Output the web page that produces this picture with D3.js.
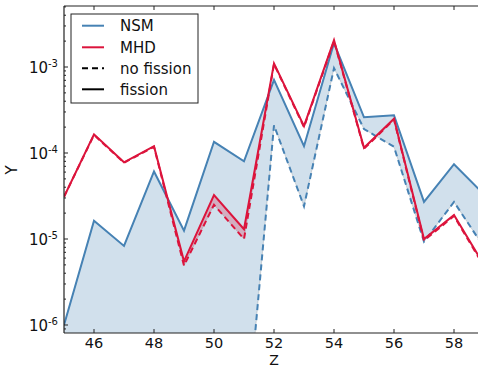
<!DOCTYPE html>
<html><head><meta charset="utf-8">
<script src="https://cdn.jsdelivr.net/npm/d3@7"></script>
<style>body{margin:0;background:#fff}text{font-family:"DejaVu Sans",sans-serif;fill:#111}</style>
</head><body><svg id="c" width="478" height="367"></svg>
<script>
const Z = [45,46,47,48,49,50,51,52,53,54,55,56,57,58,59];
const nsmFission   = [1.0e-6,1.63e-5,8.3e-6,6.1e-5,1.25e-5,1.35e-4,8.0e-5,7.1e-4,1.2e-4,1.9e-3,2.6e-4,2.75e-4,2.7e-5,7.4e-5,3.3e-5];
const nsmNoFission = [2e-8,2e-8,2e-8,2e-8,2e-8,2e-8,3e-8,2.1e-4,2.4e-5,9.7e-4,1.9e-4,1.18e-4,9.3e-6,2.7e-5,8.0e-6];
const mhdFission   = [3.1e-5,1.65e-4,7.8e-5,1.2e-4,5.5e-6,3.25e-5,1.3e-5,1.1e-3,2.05e-4,2.05e-3,1.15e-4,2.5e-4,1.0e-5,1.9e-5,5.0e-6];
const mhdNoFission = [3.1e-5,1.62e-4,7.7e-5,1.18e-4,4.9e-6,2.5e-5,1.0e-5,1.08e-3,2.0e-4,2.0e-3,1.12e-4,2.45e-4,9.6e-6,1.85e-5,4.8e-6];
const xTicks = [46,48,50,52,54,56,58];
const yTickExps = [-6,-5,-4,-3];
const seriesNames = ["NSM","MHD"];
const styleNames = ["no fission","fission"];

const blue = "#4682b4", red = "#dc143c";
const svg = d3.select("#c");
const L = 64, T = 6, B = 333, R = 484;
const x = d3.scaleLinear().domain([45,59]).range([L,R]);
const y = d3.scaleLog().domain([Math.pow(10,-6.093), Math.pow(10,-2.2907)]).range([B,T]);

svg.append("defs").append("clipPath").attr("id","clip")
  .append("rect").attr("x",L).attr("y",T).attr("width",R-L).attr("height",B-T);
const g = svg.append("g").attr("clip-path","url(#clip)");

const idx = d3.range(Z.length);
const area = (lo, hi) => d3.area().x(i=>x(Z[i])).y0(i=>y(lo[i])).y1(i=>y(hi[i]))(idx);
const line = (vals) => d3.line().x(i=>x(Z[i])).y(i=>y(vals[i]))(idx);

g.append("path").attr("d",area(nsmNoFission,nsmFission)).attr("fill",blue).attr("fill-opacity",0.25)
  .attr("stroke","#888").attr("stroke-opacity",0.3).attr("stroke-width",1);
g.append("path").attr("d",area(mhdNoFission,mhdFission)).attr("fill",red).attr("fill-opacity",0.25)
  .attr("stroke","#888").attr("stroke-opacity",0.3).attr("stroke-width",1);

const draw = (vals,color,dash) => g.append("path").attr("d",line(vals)).attr("fill","none")
  .attr("stroke",color).attr("stroke-width",2).attr("stroke-linejoin","miter")
  .attr("stroke-dasharray",dash?"6,4":null);
draw(nsmNoFission,blue,true);
draw(nsmFission,blue,false);
draw(mhdNoFission,red,true);
draw(mhdFission,red,false);

// spines
const ax = svg.append("g").attr("stroke","#222").attr("stroke-width",1.2);
ax.append("line").attr("x1",L).attr("x2",L).attr("y1",T).attr("y2",B);
ax.append("line").attr("x1",L).attr("x2",R).attr("y1",B).attr("y2",B);
ax.append("line").attr("x1",L).attr("x2",R).attr("y1",T).attr("y2",T);

// x ticks (inside, top and bottom)
xTicks.forEach(t=>{
  ax.append("line").attr("x1",x(t)).attr("x2",x(t)).attr("y1",B).attr("y2",B-4).attr("stroke-width",1);
  ax.append("line").attr("x1",x(t)).attr("x2",x(t)).attr("y1",T).attr("y2",T+4).attr("stroke-width",1);
  svg.append("text").attr("x",x(t)).attr("y",348).attr("text-anchor","middle").attr("font-size",14.5).text(t);
});
// y ticks
for (let e=-7;e<=-2;e++){
  for (let m=1;m<10;m++){
    const v = m*Math.pow(10,e);
    if (v<y.domain()[0]||v>y.domain()[1]) continue;
    ax.append("line").attr("x1",L).attr("x2",L+(m===1?4:2)).attr("y1",y(v)).attr("y2",y(v)).attr("stroke-width",1);
  }
}
yTickExps.forEach(e=>{
  const t = svg.append("text").attr("x",58).attr("y",y(Math.pow(10,e))+6).attr("text-anchor","end").attr("font-size",15);
  t.append("tspan").text("10");
  t.append("tspan").attr("font-size",10).attr("dy",-6).text("-"+(-e));
});
svg.append("text").attr("x",x(52)).attr("y",365).attr("text-anchor","middle").attr("font-size",14).text("Z");
svg.append("text").attr("transform","translate(17,170) rotate(-90)").attr("text-anchor","middle").attr("font-size",15).text("Y");

// legend
const lg = svg.append("g");
lg.append("rect").attr("x",71).attr("y",14).attr("width",127).attr("height",89).attr("fill","#fff").attr("stroke","#222").attr("stroke-width",1);
const items = [
  {name:seriesNames[0],color:blue,dash:false},
  {name:seriesNames[1],color:red,dash:false},
  {name:styleNames[0],color:"#000",dash:true},
  {name:styleNames[1],color:"#000",dash:false}
];
const ly = [25.7,47.3,68.3,89.3];
items.forEach((it,i)=>{
  lg.append("line").attr("x1",82).attr("x2",104).attr("y1",ly[i]).attr("y2",ly[i])
    .attr("stroke",it.color).attr("stroke-width",2).attr("stroke-dasharray",it.dash?"6,4":null);
  lg.append("text").attr("x",120).attr("y",ly[i]+5.5).attr("font-size",15).text(it.name);
});
</script></body></html>
